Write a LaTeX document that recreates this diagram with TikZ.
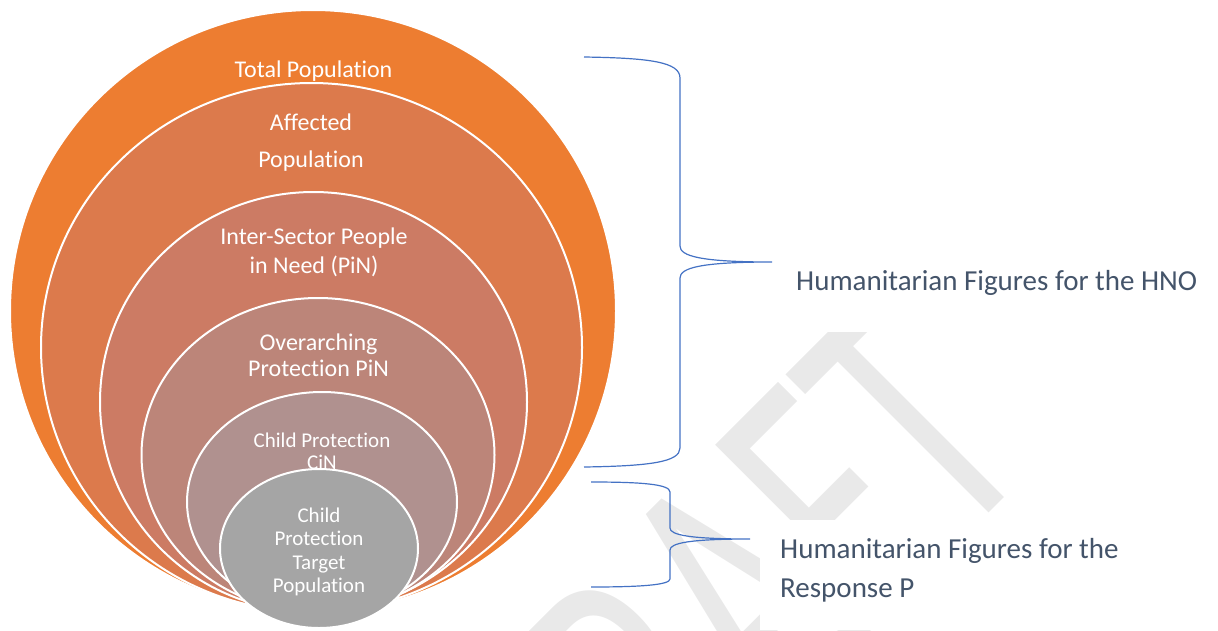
\documentclass[tikz,border=0pt]{standalone}
\usepackage{fontspec}
\setmainfont{Carlito}[Ligatures=NoCommon]
\usetikzlibrary{shapes.geometric}

\definecolor{totalC}{HTML}{ED7D31}
\definecolor{affectedC}{HTML}{DC7A4C}
\definecolor{pinC}{HTML}{CC7B64}
\definecolor{protC}{HTML}{BC8579}
\definecolor{cinC}{HTML}{B0918F}
\definecolor{targetC}{HTML}{A5A5A5}
\definecolor{braceC}{HTML}{4472C4}
\definecolor{sideC}{HTML}{44546A}
\definecolor{draftC}{HTML}{E9E9E9}

\begin{document}
\begin{tikzpicture}[x=1pt, y=-1pt,
    ring/.style={ellipse, draw=white, line width=2pt, inner sep=0},
    ringtext/.style={text=white, align=center, inner sep=0},
    side/.style={text=sideC, align=left, inner sep=0,
      font=\fontsize{29}{39}\selectfont},
    brace/.style={draw=braceC, line width=1.2pt}]
  \useasboundingbox (0,0) rectangle (1218,630);
  \clip (0,0) rectangle (1218,630);

  % watermark, partly hidden behind the label boxes
  \node[text=draftC, font=\fontsize{100}{100}\selectfont, inner sep=0,
        rotate=45, xscale=2.45, yscale=3.76, anchor=base east]
    (draft) at (1039,463) {DRAFT};
  \fill[white] (780,230) rectangle (1218,332);
  \fill[white] (760,520) rectangle (1218,630);

  % nested rings, largest first
  \node[ring, fill=totalC, minimum width=606pt, minimum height=602pt]
    (total) at (313,311) {};
  \node[ringtext, font=\fontsize{24}{29}\selectfont]
    (totalT) at (313.5,71) {Total Population};

  \node[ring, fill=affectedC, minimum width=541pt, minimum height=529pt]
    (affected) at (311.5,347.5) {};
  \node[ringtext, font=\fontsize{24}{37}\selectfont]
    (affectedT) at (311,143) {Affected\\Population};

  \node[ring, fill=pinC, minimum width=427pt, minimum height=420pt]
    (pin) at (313.5,402) {};
  \node[ringtext, font=\fontsize{24}{29}\selectfont]
    (pinT) at (314,252) {Inter-Sector People\\in Need (PiN)};

  \node[ring, fill=protC, minimum width=353pt, minimum height=314pt]
    (prot) at (318,455) {};
  \node[ringtext, font=\fontsize{24}{26.5}\selectfont]
    (protT) at (318.5,355) {Overarching\\Protection PiN};

  \node[ring, fill=cinC, minimum width=270pt, minimum height=220pt]
    (cin) at (322,502) {};
  \node[ringtext, font=\fontsize{21}{22}\selectfont]
    (cinT) at (322,451) {Child Protection\\CiN};

  \node[ring, fill=targetC, minimum width=198pt, minimum height=159pt]
    (target) at (319,548.5) {};
  \node[ringtext, font=\fontsize{21}{23.5}\selectfont]
    (targetT) at (319,552) {Child\\Protection\\Target\\Population};

  % braces and their labels
  \coordinate (hnoTop) at (584,57);
  \coordinate (hnoTip) at (772,262);
  \coordinate (hnoBot) at (584,467);
  \draw[brace]
    (hnoTop) .. controls (650,58) and (680,62) .. (680,78)
    -- (680,246) .. controls (680,256) and (700,262) .. (hnoTip)
    .. controls (700,262) and (680,268) .. (680,278)
    -- (680,448) .. controls (680,462) and (650,466) .. (hnoBot);

  \coordinate (respTop) at (591,482);
  \coordinate (respTip) at (750,539);
  \coordinate (respBot) at (591,587);
  \draw[brace]
    (respTop) .. controls (640,482) and (670,484) .. (670,492)
    -- (670,528) .. controls (670,535) and (690,539) .. (respTip)
    .. controls (690,539) and (670,543) .. (670,550)
    -- (670,579) .. controls (670,585) and (640,587) .. (respBot);

  \node[side, anchor=west] (hno) at (796,283)
    {Humanitarian Figures for the HNO};
  \node[side, anchor=west] (resp) at (780,570)
    {Humanitarian Figures for the\\Response P};
\end{tikzpicture}
\end{document}
